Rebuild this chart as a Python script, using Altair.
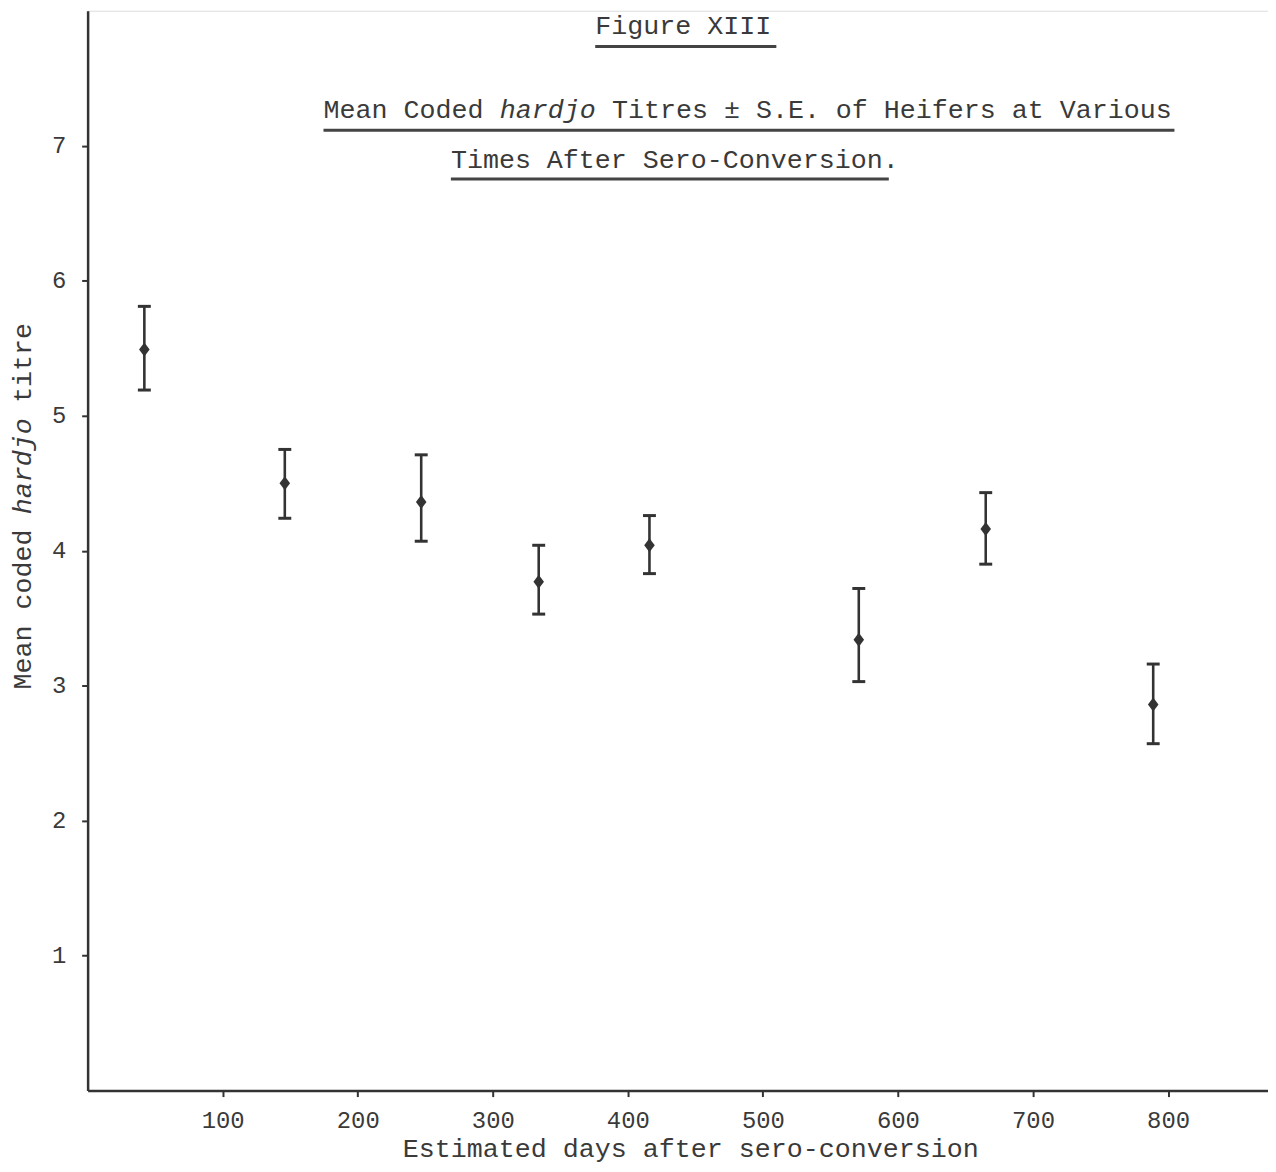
import altair as alt
import pandas as pd

# ---- data ----
days = [42, 146, 247, 334, 416, 571, 665, 789]
mean_titre = [5.49, 4.50, 4.36, 3.77, 4.04, 3.34, 4.16, 2.86]
lower_se = [5.19, 4.24, 4.07, 3.53, 3.83, 3.03, 3.90, 2.57]
upper_se = [5.81, 4.75, 4.71, 4.04, 4.26, 3.72, 4.43, 3.16]
x_tick_values = [100, 200, 300, 400, 500, 600, 700, 800]
y_tick_values = [1, 2, 3, 4, 5, 6, 7]

fig_label = "Figure XIII"
title1_parts = ["Mean Coded ", "hardjo", " Titres \u00b1 S.E. of Heifers at Various"]
title2 = "Times After Sero-Conversion."
x_title = "Estimated days after sero-conversion"
y_title_parts = ["Mean coded ", "hardjo", " titre"]

df = pd.DataFrame({"days": days, "mean": mean_titre, "lo": lower_se, "hi": upper_se})

FONT = "Liberation Mono"
INK = "#333333"
TXT = "#3a3a3a"
OX, OY = 88, 8          # page position of plot origin (top-left)
W, H = 1186, 1085
CH = 16.1               # monospace advance at title size

xs = alt.Scale(domain=[0, 874], nice=False, zero=False)
ys = alt.Scale(domain=[0, 8], nice=False)

x_axis = alt.Axis(values=x_tick_values, format="d", title=None, grid=False, labelFont=FONT,
                  labelFontSize=24, labelColor=TXT, tickSize=6, tickWidth=2, tickColor=INK,
                  domainColor=INK, domainWidth=2.5, labelPadding=12, labelFlush=False)
y_axis = alt.Axis(values=y_tick_values, format="d", title=None, grid=False, labelFont=FONT,
                  labelFontSize=24, labelColor=TXT, tickSize=6, tickWidth=2, tickColor=INK,
                  domainColor=INK, domainWidth=2.5, labelPadding=16, labelFlush=False)

base = alt.Chart(df)
bars = base.mark_rule(color=INK, strokeWidth=2.6).encode(
    x=alt.X("days:Q", scale=xs, axis=x_axis),
    y=alt.Y("lo:Q", scale=ys, axis=y_axis),
    y2="hi:Q",
)
cap_hi = base.mark_tick(color=INK, size=13, thickness=3, orient="horizontal", opacity=1).encode(
    x=alt.X("days:Q", scale=xs), y=alt.Y("hi:Q", scale=ys))
cap_lo = base.mark_tick(color=INK, size=13, thickness=3, orient="horizontal", opacity=1).encode(
    x=alt.X("days:Q", scale=xs), y=alt.Y("lo:Q", scale=ys))
pts = base.mark_point(shape="M0,-1L0.75,0L0,1L-0.75,0Z", filled=True, size=200, color=INK,
                      opacity=1).encode(x=alt.X("days:Q", scale=xs), y=alt.Y("mean:Q", scale=ys))


def label(text, px, py, size=26.8, style="normal", angle=0, align="left", baseline="alphabetic"):
    return alt.Chart(pd.DataFrame({"t": [text.strip()]})).mark_text(
        font=FONT, fontSize=size, fontStyle=style, angle=angle, align=align,
        baseline=baseline, color=TXT).encode(
        text="t:N", x=alt.value(px - OX), y=alt.value(py - OY))


def underline(x1, x2, py):
    return alt.Chart(pd.DataFrame({"a": [0]})).mark_rule(color="#444444", strokeWidth=3).encode(
        x=alt.value(x1 - OX), x2=alt.value(x2 - OX), y=alt.value(py - OY))


layers = [bars, cap_hi, cap_lo, pts]

# Titles
layers.append(label(fig_label, 598, 31))
layers.append(underline(598, 780, 44))
pos = 325
for i, part in enumerate(title1_parts):
    lead = len(part) - len(part.lstrip())
    layers.append(label(part, pos + lead * CH, 116, style="italic" if i == 1 else "normal"))
    pos += len(part) * CH
layers.append(underline(325, 1180, 128))
layers.append(label(title2, 453, 166))
layers.append(underline(453, 893, 177))

# X axis title
layers.append(label(x_title, 694, 1160, align="center"))

# Y axis title (rotated, reads bottom to top)
ypos = 690
for i, part in enumerate(y_title_parts):
    lead = len(part) - len(part.lstrip())
    layers.append(label(part, 23, ypos - lead * 16.0, angle=270, baseline="middle",
                        style="italic" if i == 1 else "normal"))
    ypos -= len(part) * 16.0

chart = alt.layer(*layers).properties(
    width=W, height=H,
    autosize=alt.AutoSizeParams(type="none"),
    padding={"left": OX - 8, "top": OY - 8, "right": 0, "bottom": 72},
).configure_view(stroke="transparent", strokeWidth=0).configure_axis(grid=False).configure(
    background="white")

chart.save("out.html", embed_options={"renderer": "svg", "actions": False})
